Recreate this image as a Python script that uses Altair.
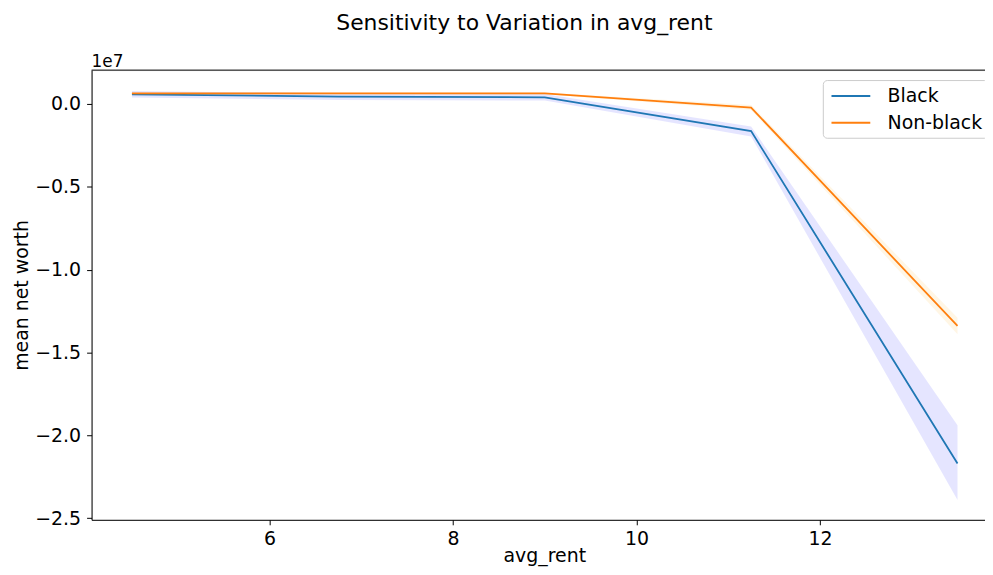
import altair as alt
import pandas as pd

# ---- data ----
avg_rent = [4.5, 6.75, 9.0, 11.25, 13.5]
groups = ["Black", "Non-black"]

black_mean = [580000, 440000, 400000, -1640000, -21700000]
black_lo = [380000, 240000, 200000, -1960000, -23900000]
black_hi = [780000, 640000, 600000, -1360000, -19400000]

nonblack_mean = [640000, 640000, 640000, -220000, -13400000]
nonblack_lo = [590000, 590000, 590000, -370000, -13900000]
nonblack_hi = [690000, 690000, 690000, -70000, -12900000]

title_text = "Sensitivity to Variation in avg_rent"
x_ticks = [6, 8, 10, 12]
y_ticks = [-25000000, -20000000, -15000000, -10000000, -5000000, 0]

rows = []
for g, m, lo, hi in [("Black", black_mean, black_lo, black_hi),
                     ("Non-black", nonblack_mean, nonblack_lo, nonblack_hi)]:
    for x, mv, l, h in zip(avg_rent, m, lo, hi):
        rows.append({"avg_rent": x, "group": g, "band": g + " band", "mean": mv, "lo": l, "hi": h})
df = pd.DataFrame(rows)

FONT = "DejaVu Sans"
W, H = 898, 452

x_scale = alt.Scale(domain=[4.06, 4.06 + W / 92.2], nice=False, zero=False)
y_scale = alt.Scale(domain=[-25100000, 2040000], nice=False, zero=False)

base = alt.Chart(df)

bands = base.mark_area(opacity=0.1, clip=True).encode(
    x=alt.X("avg_rent:Q", scale=x_scale),
    y=alt.Y("lo:Q", scale=y_scale),
    y2="hi:Q",
    fill=alt.Fill("band:N", scale=alt.Scale(domain=[g + " band" for g in groups],
                                            range=["blue", "orange"]), legend=None),
    detail="band:N",
)

lines = base.mark_line(strokeWidth=1.8, clip=True).encode(
    x=alt.X("avg_rent:Q", scale=x_scale,
            axis=alt.Axis(title="avg_rent", values=x_ticks, format="d", grid=False,
                          domainColor="black", tickColor="black", tickSize=5, labelPadding=5,
                          labelFontSize=19, titleFontSize=19, labelFont=FONT, titleFont=FONT,
                          labelColor="black", titleColor="black", titleFontWeight="normal",
                          titleX=455, titleY=42, titleBaseline="alphabetic", titleAlign="center")),
    y=alt.Y("mean:Q", scale=y_scale,
            axis=alt.Axis(title="mean net worth", values=y_ticks,
                          labelExpr="format(datum.value / 1e7, '.1f')", grid=False,
                          domainColor="black", tickColor="black", tickSize=5, labelPadding=6,
                          labelFontSize=19, titleFontSize=19, labelFont=FONT, titleFont=FONT,
                          labelColor="black", titleColor="black", titleFontWeight="normal",
                          titleX=-70, titleY=226, titleAngle=-90, titleBaseline="middle",
                          titleAlign="center")),
    color=alt.Color("group:N",
                    scale=alt.Scale(domain=groups, range=["#1f77b4", "#ff7f0e"]),
                    legend=alt.Legend(title=None, orient="none", legendX=735, legendY=10,
                                      symbolType="M-0.73,0L3.17,0", symbolSize=400,
                                      symbolStrokeWidth=2,
                                      labelFontSize=19, labelFont=FONT, labelColor="black",
                                      labelOffset=38, rowPadding=6, padding=5,
                                      strokeColor="#cccccc", fillColor="white",
                                      cornerRadius=4)),
    detail="group:N",
)

top_spine = alt.Chart(pd.DataFrame({"s": [0]})).mark_rule(color="black", strokeWidth=1).encode(
    x=alt.value(0), x2=alt.value(W), y=alt.value(0)
)

offset_text = alt.Chart(pd.DataFrame({"t": ["1e7"]})).mark_text(
    align="left", baseline="alphabetic", font=FONT, fontSize=17, color="black"
).encode(text="t:N", x=alt.value(0), y=alt.value(-3))

title = alt.Chart(pd.DataFrame({"t": [title_text]})).mark_text(
    align="center", baseline="alphabetic", font=FONT, fontSize=22, color="black"
).encode(text="t:N", x=alt.value(435), y=alt.value(-40))

chart = alt.layer(bands, lines, top_spine, offset_text, title).properties(
    width=W, height=H,
    autosize=alt.AutoSizeParams(type="none"),
    padding={"left": 84, "top": 61, "right": 0, "bottom": 46},
).resolve_legend(color="independent", fill="independent").configure_view(stroke=None).configure(background="white")

chart.save("out.html", embed_options={"renderer": "svg", "actions": False})
